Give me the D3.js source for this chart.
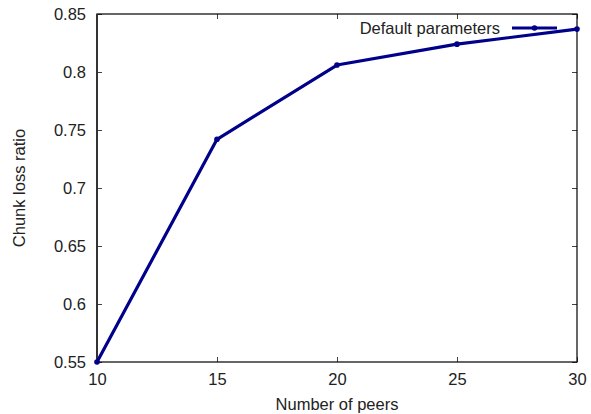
<!DOCTYPE html>
<html>
<head>
<meta charset="utf-8">
<script src="https://cdn.jsdelivr.net/npm/d3@7"></script>
<style>
  html, body { margin: 0; padding: 0; background: #fff; }
  svg { display: block; }
  text { font-family: "Liberation Sans", Arial, sans-serif; fill: #222; }
</style>
</head>
<body>
<svg id="chart" width="591" height="414"></svg>
<script>
// Chunk loss ratio as the number of peers grows
const peers = [10, 15, 20, 25, 30];
const lossRatio = [0.55, 0.742, 0.806, 0.824, 0.837];
const xTicks = [10, 15, 20, 25, 30];
const yTicks = [0.55, 0.6, 0.65, 0.7, 0.75, 0.8, 0.85];
const seriesName = "Default parameters";

const W = 591, H = 414;
const margin = { left: 97, right: 14, top: 14, bottom: 52 };
const fontSize = 16.5;
const svg = d3.select("#chart");

const x = d3.scaleLinear().domain([10, 30]).range([margin.left, W - margin.right]);
const y = d3.scaleLinear().domain([0.55, 0.85]).range([H - margin.bottom, margin.top]);

const tickLen = 5;
const fmtY = d => String(+d.toFixed(2));

// bottom axis with inward ticks
svg.append("g")
  .attr("transform", `translate(0,${y(0.55)})`)
  .call(d3.axisBottom(x).tickValues(xTicks).tickSize(-tickLen).tickPadding(11).tickFormat(d3.format("d")))
  .call(g => g.select(".domain").remove())
  .call(g => g.selectAll("line").attr("stroke", "#444"))
  .call(g => g.selectAll("text").attr("font-size", fontSize).attr("fill", "#222")
    .attr("font-family", "Liberation Sans, Arial, sans-serif"));

// top mirror ticks
svg.append("g")
  .attr("transform", `translate(0,${y(0.85)})`)
  .call(d3.axisTop(x).tickValues(xTicks).tickSize(-tickLen).tickFormat(""))
  .call(g => g.select(".domain").remove())
  .call(g => g.selectAll("line").attr("stroke", "#444"));

// left axis
svg.append("g")
  .attr("transform", `translate(${x(10)},0)`)
  .call(d3.axisLeft(y).tickValues(yTicks).tickSize(-tickLen).tickPadding(11).tickFormat(fmtY))
  .call(g => g.select(".domain").remove())
  .call(g => g.selectAll("line").attr("stroke", "#444"))
  .call(g => g.selectAll("text").attr("font-size", fontSize).attr("fill", "#222")
    .attr("font-family", "Liberation Sans, Arial, sans-serif"));

// right mirror ticks
svg.append("g")
  .attr("transform", `translate(${x(30)},0)`)
  .call(d3.axisRight(y).tickValues(yTicks).tickSize(-tickLen).tickFormat(""))
  .call(g => g.select(".domain").remove())
  .call(g => g.selectAll("line").attr("stroke", "#444"));

// plot frame
svg.append("rect")
  .attr("x", x(10)).attr("y", y(0.85))
  .attr("width", x(30) - x(10)).attr("height", y(0.55) - y(0.85))
  .attr("fill", "none").attr("stroke", "#000").attr("stroke-width", 1.2);
svg.append("line")
  .attr("x1", x(10)).attr("x2", x(10)).attr("y1", y(0.85)).attr("y2", y(0.55))
  .attr("stroke", "#333").attr("stroke-width", 2);

// axis titles
svg.append("text")
  .attr("x", (x(10) + x(30)) / 2).attr("y", 410)
  .attr("text-anchor", "middle").attr("font-size", fontSize)
  .text("Number of peers");
svg.append("text")
  .attr("transform", `translate(25,${(y(0.55) + y(0.85)) / 2}) rotate(-90)`)
  .attr("text-anchor", "middle").attr("font-size", fontSize)
  .text("Chunk loss ratio");

// data line
const color = "#00008b";
const data = peers.map((p, i) => ({ p, v: lossRatio[i] }));
svg.append("path")
  .datum(data)
  .attr("fill", "none").attr("stroke", color).attr("stroke-width", 3.2)
  .attr("stroke-linejoin", "round")
  .attr("d", d3.line().x(d => x(d.p)).y(d => y(d.v)));
svg.append("g").selectAll("circle")
  .data(data).join("circle")
  .attr("cx", d => x(d.p)).attr("cy", d => y(d.v)).attr("r", 2.8)
  .attr("fill", color);

// legend
const leg = svg.append("g");
leg.append("text")
  .attr("x", 500).attr("y", 34)
  .attr("text-anchor", "end").attr("font-size", fontSize)
  .text(seriesName);
leg.append("line")
  .attr("x1", 512).attr("x2", 557).attr("y1", 28).attr("y2", 28)
  .attr("stroke", color).attr("stroke-width", 3.2);
leg.append("circle")
  .attr("cx", 534.5).attr("cy", 28).attr("r", 2.8).attr("fill", color);
</script>
</body>
</html>
